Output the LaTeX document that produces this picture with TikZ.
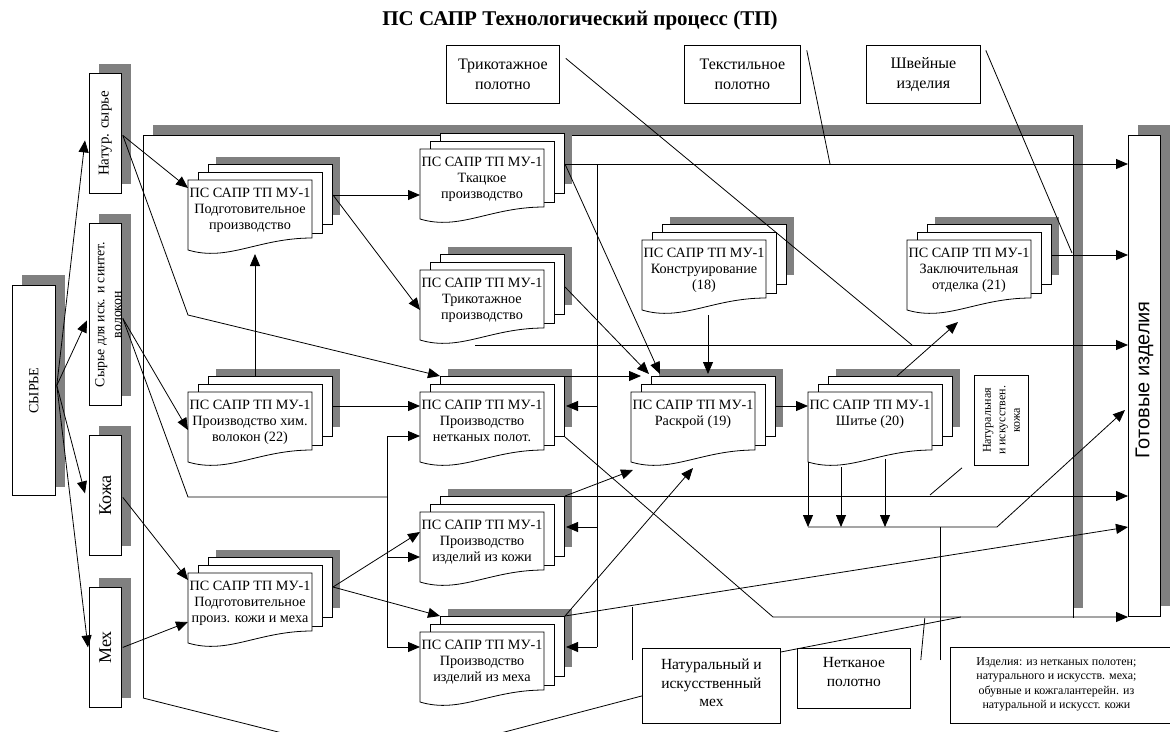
\documentclass[tikz,border=0pt]{standalone}
\usepackage{fontspec}
\setmainfont{Liberation Serif}
\newfontfamily\arialf{Liberation Sans}
\usetikzlibrary{arrows.meta,calc}
\definecolor{shad}{RGB}{128,128,128}
\newcommand{\dstack}[4]{%
  \fill[shad] (#2+28,#3-23) rectangle (#2+152,#3+35);
  \draw[fill=white] (#2+20,#3-16) rectangle (#2+144,#3+44);
  \draw[fill=white] (#2+10,#3-8) rectangle (#2+134,#3+53);
  \draw[fill=white] (#2,#3) -- (#2+124,#3) -- (#2+124,#3+58) .. controls (#2+70,#3+58) and (#2+40,#3+82) .. (#2,#3+70) -- cycle;
  \node[inner sep=0pt, minimum width=124, minimum height=70, anchor=north west] (#1) at (#2,#3) {};
  \node[doctext, anchor=north] at (#2+62,#3+8) {#4};
}
\begin{document}
\begin{tikzpicture}[x=1pt,y=-1pt, line width=0.8pt,
  arr/.style={-{Triangle[length=12pt,width=10pt]}},
  box/.style={draw, fill=white, inner sep=0pt, anchor=north west},
  doctext/.style={font=\fontsize{14.2}{16}\selectfont, align=center, inner sep=0pt},
  btext/.style={align=center, inner sep=0pt},
]
\useasboundingbox (0,0) rectangle (1170,731);
\clip (0,0) rectangle (1170,731);

% title
\node[font=\bfseries\fontsize{21}{24}\selectfont] (title) at (580,20) {ПС САПР Технологический процесс (ТП)};

% frame
\fill[shad] (153,125) rectangle (1083,135);
\fill[shad] (1073,125) rectangle (1083,608);
\coordinate (frBL) at (143,698);
\draw (frBL) -- (143,135) -- (1073,135) -- (1073,618);

% left boxes
\fill[shad] (22,275) rectangle (65,487);
\node[box, minimum width=43, minimum height=210] (syr) at (12,285) {};
\node[rotate=90, font=\fontsize{14}{16}\selectfont] at (syr.center) {СЫРЬЕ};
\fill[shad] (99,64) rectangle (131,184);
\node[box, minimum width=32, minimum height=120] (natur) at (89,73) {};
\node[rotate=90, font=\fontsize{15}{16}\selectfont] at (natur.center) {Натур. сырье};
\fill[shad] (99,214) rectangle (131,396);
\node[box, minimum width=32, minimum height=182] (syn) at (89,223) {};
\node[rotate=90, btext, font=\fontsize{13.8}{17}\selectfont] at ($(syn.center)+(3,0)$) {Сырье для иск. и синтет.\\волокон};
\fill[shad] (99,426) rectangle (131,546);
\node[box, minimum width=32, minimum height=120] (kozhb) at (89,435) {};
\node[rotate=90, font=\fontsize{18}{20}\selectfont] at (kozhb.center) {Кожа};
\fill[shad] (99,578) rectangle (131,698);
\node[box, minimum width=32, minimum height=120] (mexb) at (89,587) {};
\node[rotate=90, font=\fontsize{18}{20}\selectfont] at (mexb.center) {Мех};

% Готовые изделия
\fill[shad] (1138,125) rectangle (1170,606);
\node[box, minimum width=32, minimum height=481] (gotov) at (1128,135) {};
\node[rotate=90, font=\arialf\fontsize{20}{22}\selectfont] at ($(gotov.north)+(0,245)$) {Готовые изделия};

% top boxes
\node[box, minimum width=113, minimum height=58] (trpol) at (446,45) {};
\node[btext, font=\fontsize{16}{20}\selectfont] at (trpol.center) {Трикотажное\\полотно};
\node[box, minimum width=116, minimum height=58] (txpol) at (684,45) {};
\node[btext, font=\fontsize{16}{20}\selectfont] at (txpol.center) {Текстильное\\полотно};
\node[box, minimum width=114, minimum height=58] (shv) at (866,45) {};
\node[btext, font=\fontsize{16}{20}\selectfont] at (shv.center) {Швейные\\изделия};

% bottom boxes
\node[box, minimum width=138, minimum height=75] (natmeh) at (642,648) {};
\node[btext, font=\fontsize{15.5}{18.5}\selectfont] at ($(natmeh.center)+(0,-3)$) {Натуральный и\\искусственный\\мех};
\node[box, minimum width=113, minimum height=60] (netpol) at (797,648) {};
\node[btext, font=\fontsize{15.5}{19}\selectfont] at ($(netpol.center)+(0,-6)$) {Нетканое\\полотно};
\node[box, minimum width=222, minimum height=76] (izd) at (950,647) {};
\node[btext, font=\fontsize{12}{14.5}\selectfont] at ($(izd.center)+(-5,-1)$) {Изделия: из нетканых полотен;\\натурального и искусств. меха;\\обувные и кожгалантерейн. из\\натуральной и искусст. кожи};
\node[box, minimum width=54, minimum height=90] (natkozh) at (974,375) {};
\node[rotate=90, btext, font=\fontsize{12}{14.5}\selectfont] at (natkozh.center) {Натуральная\\и искусствен.\\кожа};

% document stacks
\dstack{podg}{188}{180}{ПС САПР ТП МУ-1\\Подготовительное\\производство}
\dstack{tkac}{420}{149}{ПС САПР ТП МУ-1\\Ткацкое\\производство}
\dstack{trik}{420}{270}{ПС САПР ТП МУ-1\\Трикотажное\\производство}
\dstack{him}{188}{392}{ПС САПР ТП МУ-1\\Производство хим.\\волокон (22)}
\dstack{netk}{420}{392}{ПС САПР ТП МУ-1\\Производство\\нетканых полот.}
\dstack{kozh}{420}{512}{ПС САПР ТП МУ-1\\Производство\\изделий из кожи}
\dstack{meh}{420}{632}{ПС САПР ТП МУ-1\\Производство\\изделий из меха}
\dstack{podgk}{188}{573}{ПС САПР ТП МУ-1\\Подготовительное\\произ. кожи и меха}
\dstack{konstr}{642}{240}{ПС САПР ТП МУ-1\\Конструирование\\(18)}
\dstack{raskr}{631}{392}{ПС САПР ТП МУ-1\\Раскрой (19)}
\dstack{shit}{808}{392}{ПС САПР ТП МУ-1\\Шитье (20)}
\dstack{zakl}{907}{240}{ПС САПР ТП МУ-1\\Заключительная\\отделка (21)}

% from СЫРЬЕ
\coordinate (s0) at ($(syr.east)+(1,-5)$);
\draw[arr] (s0) -- ($(natur.west)+(-4,7)$);
\draw[arr] (s0) -- ($(syn.west)+(-2,6)$);
\draw[arr] (s0) -- ($(kozhb.west)+(-4,-2)$);
\draw[arr] (s0) -- ($(mexb.west)+(-1,0)$);

% raw materials to stacks
\draw[arr] ($(natur.east)+(1,2)$) -- ($(podg.north west)+(0,8)$);
\draw[arr] ($(natur.east)+(1,2)$) -- ($(podg.north west)+(0,135)$) -- ($(netk.north west)+(20,-16)$);
\draw[arr] ($(syn.east)+(1,4)$) -- ($(him.north west)+(0,38)$);
\coordinate (lbm) at ($(kozh.north west)+(-33,-15)$);
\draw ($(syn.east)+(1,4)$) -- ($(him.north west)+(0,105)$) -- (lbm);
\draw[arr] ($(kozhb.east)+(1,2)$) -- ($(podgk.north west)+(0,7)$);
\draw[arr] ($(mexb.east)+(1,0)$) -- ($(podgk.north west)+(0,49)$);

% between stacks (left part)
\coordinate (p1) at ($(podg.north west)+(145,15)$);
\draw[arr] (p1) -- (p1 -| tkac.west);
\draw[arr] (p1) -- ($(trik.north west)+(0,40)$);
\draw[arr] ($(him.north west)+(67,-16)$) -- ($(podg.north west)+(67,74)$);
\coordinate (h1) at ($(him.north west)+(145,14)$);
\draw[arr] (h1) -- (h1 -| netk.west);
\coordinate (pk1) at ($(podgk.north west)+(145,14)$);
\draw[arr] (pk1) -- ($(kozh.north west)+(0,20)$);
\draw[arr] (pk1) -- ($(meh.north west)+(20,-16)$);

% left bus
\coordinate (lbt) at ($(netk.north west)+(-33,44)$);
\coordinate (lbb) at ($(meh.north west)+(-33,15)$);
\draw (lbt) -- (lbb);
\draw[arr] (lbt) -- (lbt -| netk.west);
\draw[arr] ($(kozh.north west)+(-33,45)$) -- ($(kozh.north west)+(0,45)$);
\draw[arr] (lbb) -- (lbb -| meh.west);

% right bus
\coordinate (t1) at ($(tkac.north west)+(145,15)$);
\coordinate (rbt) at ($(tkac.north west)+(177,15)$);
\coordinate (rbb) at ($(meh.north west)+(177,15)$);
\draw (rbt) -- (rbb);
\draw[arr] ($(netk.north west)+(177,14)$) -- ($(netk.north west)+(146,14)$);
\draw[arr] ($(kozh.north west)+(177,15)$) -- ($(kozh.north west)+(146,15)$);
\draw[arr] (rbb) -- ($(meh.north west)+(146,15)$);

% to Готовые изделия
\draw[arr] (t1) -- (t1 -| gotov.west);
\coordinate (tr1) at ($(trik.north west)+(55,75)$);
\draw[arr] (tr1) -- (tr1 -| gotov.west);
\coordinate (z1) at ($(zakl.north west)+(144,15)$);
\draw[arr] (z1) -- (z1 -| gotov.west);
\coordinate (k1) at ($(kozh.north west)+(145,-16)$);
\draw[arr] (k1) -- (k1 -| gotov.west);
\coordinate (m1) at ($(meh.north west)+(145,-16)$);
\draw[arr] (m1) -- ($(gotov.north west)+(0,392)$);
\coordinate (nk2) at ($(netk.north west)+(353,225)$);
\draw[arr] ($(netk.north west)+(145,45)$) -- (nk2) -- (nk2 -| gotov.west);

% to Раскрой
\draw[arr] (t1) -- ($(raskr.north west)+(29,-18)$);
\draw[arr] ($(trik.north west)+(145,17)$) -- ($(raskr.north west)+(18,-18)$);
\coordinate (n1) at ($(netk.north west)+(145,-16)$);
\draw[arr] (n1) -- ($(raskr.north west)+(10,-16)$);
\draw[arr] ($(konstr.north west)+(66,75)$) -- ($(raskr.north west)+(77,-18)$);
\draw[arr] (k1) -- ($(raskr.north west)+(2,78)$);
\draw[arr] (m1) -- ($(raskr.north west)+(62,76)$);
\coordinate (r1) at ($(raskr.north west)+(144,14)$);
\draw[arr] (r1) -- (r1 -| shit.west);

% Шитье outputs
\draw[arr] ($(shit.north west)+(0,70)$) -- ($(shit.north west)+(0,135)$);
\draw[arr] ($(shit.north west)+(33,75)$) -- ($(shit.north west)+(33,135)$);
\draw[arr] ($(shit.north west)+(77,67)$) -- ($(shit.north west)+(77,135)$);
\draw[arr] ($(shit.north west)+(0,135)$) -- ($(shit.north west)+(189,135)$) -- ($(gotov.north west)+(-3,275)$);
\draw[arr] ($(shit.north west)+(89,-16)$) -- ($(zakl.north west)+(51,82)$);

% callouts
\draw ($(trpol.east)+(6,-16)$) -- ($(shit.north west)+(104,-47)$);
\draw ($(txpol.east)+(6,-24)$) -- ($(tkac.north west)+(410,15)$);
\draw ($(shv.east)+(5,-24)$) -- ($(zakl.north west)+(165,13)$);
\draw ($(natkozh.south west)+(-12,2)$) -- ($(shit.north west)+(122,103)$);
\draw ($(izd.north west)+(-10,13)$) -- ($(shit.north west)+(132,135)$);
\draw ($(netpol.north east)+(10,12)$) -- ($(netpol.north east)+(14,-30)$);
\draw ($(natmeh.north west)+(-10,12)$) -- ($(natmeh.north west)+(-10,-41)$);
\draw ($(natmeh.north east)+(0,4)$) -- ($(natmeh.north east)+(180,-31)$);
\draw ($(natmeh.west)+(0,10)$) -- (455,745) -- (330,745) -- (frBL);
\end{tikzpicture}
\end{document}
